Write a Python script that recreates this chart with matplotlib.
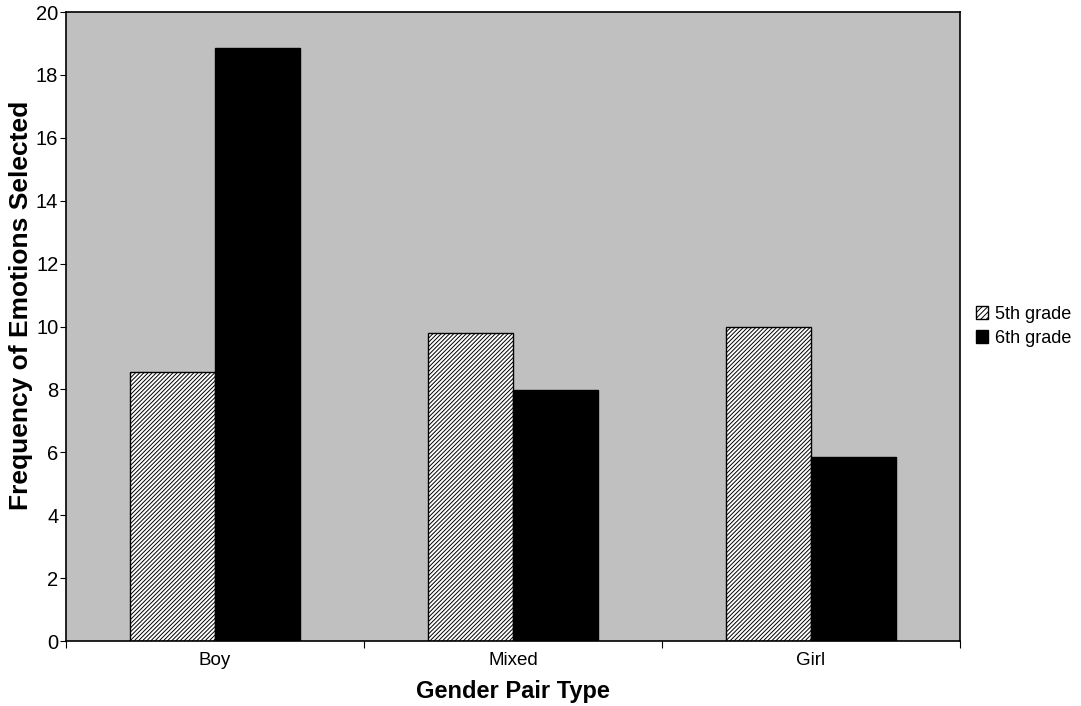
import numpy as np
import matplotlib.pyplot as plt
from matplotlib.patches import Patch

plt.rcParams['font.family'] = ['Liberation Sans', 'DejaVu Sans']
plt.rcParams['hatch.linewidth'] = 0.7

categories = ['Boy', 'Mixed', 'Girl']
grade5 = [8.55, 9.8, 9.98]
grade6 = [18.86, 7.97, 5.85]
series_labels = ['5th grade', '6th grade']

fig = plt.figure(figsize=(10.81, 7.06), dpi=100)
ax = fig.add_axes([0.061, 0.092, 0.827, 0.891])
ax.set_facecolor('#c0c0c0')

x = np.arange(len(categories))
w = 0.285
ax.bar(x - w / 2, grade5, w, facecolor='white', edgecolor='black',
       hatch='////////', linewidth=1.0)
ax.bar(x + w / 2, grade6, w, color='black', edgecolor='black', linewidth=1.0)

ax.set_xlim(-0.5, 2.5)
ax.set_ylim(0, 20)
ax.set_yticks(np.arange(0, 21, 2))
ax.set_xticks([-0.5, 0.5, 1.5, 2.5])
ax.set_xticklabels([])
ax.set_xticks(x, minor=True)
ax.set_xticklabels(categories, minor=True)
ax.tick_params(axis='x', which='minor', length=0, pad=8, labelsize=13.5)
ax.tick_params(axis='x', which='major', length=5, direction='out')
ax.tick_params(axis='y', length=4.5, direction='out', labelsize=14.5, pad=1)

for s in ax.spines.values():
    s.set_color('black')
    s.set_linewidth(1.2)

ax.set_xlabel('Gender Pair Type', fontsize=17, fontweight='bold', labelpad=8)
ax.set_ylabel('Frequency of Emotions Selected', fontsize=19, fontweight='bold')
ax.yaxis.set_label_coords(-0.037, 0.533)

handles = [Patch(facecolor='white', edgecolor='black', hatch='//////'),
           Patch(facecolor='black', edgecolor='black')]
fig.legend(handles, series_labels, loc='center left', bbox_to_anchor=(0.8875, 0.538),
           frameon=False, fontsize=13, handlelength=0.7, handleheight=0.7,
           handletextpad=0.4, labelspacing=0.4)

fig.savefig('out.png', dpi=100)
